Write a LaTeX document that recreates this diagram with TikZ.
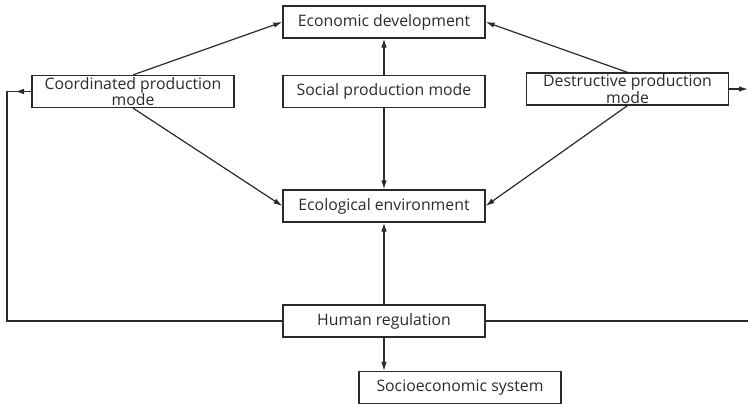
\documentclass[tikz,border=0pt]{standalone}
\usepackage{fontspec}
\setmainfont{Open Sans}
\usetikzlibrary{arrows.meta}
\definecolor{ink}{HTML}{2A2A2A}
\tikzset{
  box/.style={draw=ink, line width=1.2pt, minimum width=202pt, minimum height=32pt, inner sep=0pt, align=center, font=\fontsize{15.8}{15}\selectfont, text=ink},
  conn/.style={draw=ink, line width=1.2pt},
  arr/.style={conn, -{Latex[length=9pt,width=5.5pt]}}
}
\begin{document}
\begin{tikzpicture}[x=1pt,y=-1pt]
\useasboundingbox (0,0) rectangle (748,404);
\node[box] (econ) at (384,22) {Economic development};
\node[box] (social) at (384,91.5) {Social production mode};
\node[box] (coord) at (133,91.5) {Coordinated production\\mode};
\node[box] (dest) at (627.5,89) {Destructive production\\mode};
\node[box] (eco) at (384,206) {Ecological environment};
\node[box] (human) at (384,321) {Human regulation};
\node[box] (socio) at (460,387.5) {Socioeconomic system};
\coordinate (lcorner) at (7,91.5);
\coordinate (ltip) at (15,91.5);
\coordinate (rtip) at (748,89);
\coordinate (rend) at (748,321);
\draw[arr] (social) -- (econ);
\draw[arr] (social) -- (eco);
\draw[arr] (human) -- (eco);
\draw[arr] (human.south) -- (human.south |- socio.north);
\draw[arr] (coord.north) -- (econ.west);
\draw[arr] (coord.south) -- (eco.west);
\draw[arr] (dest.north) -- (econ.east);
\draw[arr] (dest.south) -- (eco.east);
\draw[arr] (dest.east) -- (rtip);
\draw[conn] (human.east) -- (rend);
\draw[conn] (human.west) -| (lcorner) -- (coord.west);
\draw[arr] (coord.west) -- (ltip);
\end{tikzpicture}
\end{document}
